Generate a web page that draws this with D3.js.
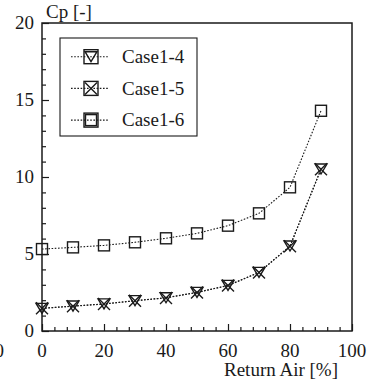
<!DOCTYPE html>
<html>
<head>
<meta charset="utf-8">
<script src="https://cdn.jsdelivr.net/npm/d3@7"></script>
<style>
  html, body { margin: 0; padding: 0; background: #fff; }
  svg { display: block; }
</style>
</head>
<body>
<svg id="chart" width="382" height="385"></svg>
<script>
// Return-air ratio [%] on the x axis
const returnAir = [0, 10, 20, 30, 40, 50, 60, 70, 80, 90];
// Cp for each case
const case14 = [1.47, 1.62, 1.76, 1.97, 2.16, 2.51, 2.96, 3.81, 5.52, 10.52];
const case15 = [1.47, 1.61, 1.75, 1.96, 2.15, 2.50, 2.95, 3.80, 5.50, 10.50];
const case16 = [5.32, 5.43, 5.56, 5.76, 6.02, 6.34, 6.84, 7.64, 9.33, 14.30];
const seriesNames = ["Case1-4", "Case1-5", "Case1-6"];
const xTickLabels = [0, 20, 40, 60, 80, 100];
const yTickLabels = [0, 5, 10, 15, 20];

const svg = d3.select("#chart");
const pLeft = 42, pRight = 352, pTop = 23, pBottom = 331;
const x = d3.scaleLinear().domain([0, 100]).range([pLeft, pRight]);
const y = d3.scaleLinear().domain([0, 20]).range([pBottom, pTop]);
const ink = "#1a1a1a";
const fs = 19;

function label(sel) {
  return sel.style("font-family", '"Liberation Serif"').attr("font-size", fs).attr("fill", ink);
}

// Inward ticks: minor then major
const xMinor = d3.range(0, 101, 4).filter(v => v % 20 !== 0);
const yMinor = d3.range(0, 21, 1).filter(v => v % 5 !== 0);

const gx = svg.append("g").attr("transform", `translate(0,${pBottom})`);
gx.call(d3.axisBottom(x).tickValues(xMinor).tickSizeInner(-4).tickSizeOuter(0).tickFormat(""));
gx.append("g").call(d3.axisBottom(x).tickValues(xTickLabels).tickSizeInner(-7).tickSizeOuter(0).tickFormat(""));
gx.selectAll(".domain").remove();
gx.selectAll("line").attr("stroke", ink).attr("stroke-width", 1.2);

const gy = svg.append("g").attr("transform", `translate(${pLeft},0)`);
gy.call(d3.axisLeft(y).tickValues(yMinor).tickSizeInner(-4).tickSizeOuter(0).tickFormat(""));
gy.append("g").call(d3.axisLeft(y).tickValues(yTickLabels).tickSizeInner(-7).tickSizeOuter(0).tickFormat(""));
gy.selectAll(".domain").remove();
gy.selectAll("line").attr("stroke", ink).attr("stroke-width", 1.2);

// Tick labels
svg.append("g").selectAll("text").data(xTickLabels).join("text")
  .attr("x", d => x(d)).attr("y", 357).attr("text-anchor", "middle")
  .call(label).text(d => d);
svg.append("g").selectAll("text").data(yTickLabels).join("text")
  .attr("x", 34).attr("y", d => y(d) + 6.3).attr("text-anchor", "end")
  .call(label).text(d => d);
// Partial label at far left edge
svg.append("text").attr("x", 4).attr("y", 357).attr("text-anchor", "end")
  .call(label).text("0");

// Axis titles
svg.append("text").attr("x", 46).attr("y", 18).call(label).text("Cp [-]");
svg.append("text").attr("x", 338).attr("y", 376).attr("text-anchor", "end")
  .call(label).text("Return Air [%]");

// Markers
function marker(g, kind) {
  if (kind === 0) {
    g.append("path").attr("d", "M-6,-5 L6,-5 L0,5 Z");
  } else if (kind === 1) {
    g.append("path").attr("d", "M-6,-6 L6,6 M-6,6 L6,-6");
  } else {
    g.append("rect").attr("x", -5.5).attr("y", -5.5).attr("width", 11).attr("height", 11);
  }
  g.selectAll("path,rect").attr("fill", "none").attr("stroke", ink).attr("stroke-width", 1.4);
}

const allSeries = [case14, case15, case16];
const line = d3.line().x((d, i) => x(returnAir[i])).y(d => y(d));

allSeries.forEach((vals, k) => {
  svg.append("path").datum(vals).attr("d", line)
    .attr("fill", "none").attr("stroke", ink).attr("stroke-width", 1.1)
    .attr("stroke-dasharray", "1.6,1.6");
});
allSeries.forEach((vals, k) => {
  svg.append("g").selectAll("g").data(vals).join("g")
    .attr("transform", (d, i) => `translate(${x(returnAir[i])},${y(d)})`)
    .each(function() { marker(d3.select(this), k); });
});

// Frame
svg.append("rect").attr("x", pLeft).attr("y", pTop)
  .attr("width", pRight - pLeft).attr("height", pBottom - pTop)
  .attr("fill", "none").attr("stroke", ink).attr("stroke-width", 1.5);

// Legend
const lg = svg.append("g");
lg.append("rect").attr("x", 60).attr("y", 38).attr("width", 137).attr("height", 98)
  .attr("fill", "#fff").attr("stroke", ink).attr("stroke-width", 1.1);
seriesNames.forEach((name, k) => {
  const cy = 56.7 + k * 31.7;
  lg.append("line").attr("x1", 71).attr("x2", 109).attr("y1", cy).attr("y2", cy)
    .attr("stroke", ink).attr("stroke-width", 1.1).attr("stroke-dasharray", "1.6,1.6");
  const m = lg.append("g").attr("transform", `translate(91,${cy})`);
  m.append("rect").attr("x", -7).attr("y", -7).attr("width", 14).attr("height", 14).attr("fill", "#fff");
  marker(m, k);
  lg.append("text").attr("x", 122).attr("y", cy + 6.3).call(label).text(name);
});
</script>
</body>
</html>
